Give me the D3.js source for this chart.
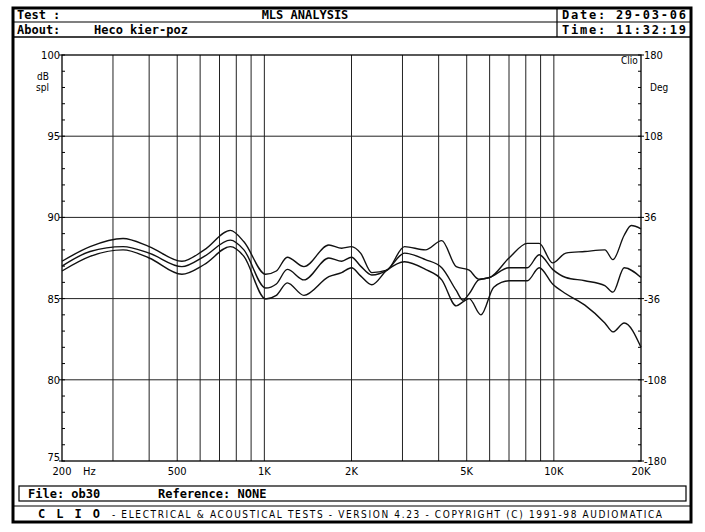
<!DOCTYPE html>
<html><head><meta charset="utf-8">
<script src="https://cdn.jsdelivr.net/npm/d3@7"></script>
<style>body{margin:0;background:#fff}svg{display:block}</style>
</head><body>
<script>
const xTickLabels = [[200,"200"],[500,"500"],[1000,"1K"],[2000,"2K"],[5000,"5K"],[10000,"10K"],[20000,"20K"]];
const gridFreqs = [300,400,500,600,700,800,900,1000,2000,3000,4000,5000,6000,7000,8000,9000,10000];
const dbTicks = [75,80,85,90,95,100];
const degLabels = ["-180","-108","-36","36","108","180"];
const curveA = [[200,87.3],[250,88.2],[325,88.7],[400,88.2],[519,87.3],[620,88.0],[763,89.2],[850,88.5],[1010,86.5],[1100,86.7],[1200,87.55],[1370,86.97],[1670,88.3],[1850,88.1],[2000,88.2],[2150,87.8],[2350,86.6],[2650,86.75],[3050,88.2],[3600,88.0],[4100,88.57],[4600,86.97],[5100,86.75],[5500,86.2],[6000,86.3],[7000,87.5],[8100,88.4],[8900,88.4],[9900,87.2],[11000,87.8],[12800,87.9],[15000,88.0],[16000,87.4],[17500,88.9],[18500,89.5],[20000,89.3]];
const curveB = [[200,87.0],[250,87.9],[325,88.2],[400,87.8],[519,86.97],[620,87.6],[763,88.6],[850,88.0],[1010,85.65],[1100,85.9],[1200,86.8],[1370,86.15],[1670,87.5],[1850,87.3],[2000,87.55],[2150,87.0],[2350,86.45],[2650,86.75],[3050,87.8],[3600,87.4],[4100,86.9],[4600,85.5],[4850,84.9],[5100,85.3],[5500,86.15],[6000,86.3],[7000,86.9],[8100,86.9],[8900,87.7],[9900,86.8],[11000,86.3],[12800,86.1],[15000,85.8],[16000,85.4],[17500,86.9],[20000,86.3]];
const curveC = [[200,86.7],[250,87.6],[325,88.0],[400,87.5],[519,86.5],[620,87.1],[763,88.2],[850,87.6],[1010,84.98],[1100,85.2],[1200,85.97],[1370,85.2],[1670,86.35],[1850,86.6],[2000,86.9],[2150,86.4],[2350,85.85],[2650,86.75],[3050,87.27],[3600,86.8],[4100,86.15],[4600,84.55],[4850,84.8],[5100,85.0],[5600,84.0],[6200,85.7],[7000,86.1],[8100,86.1],[8900,86.9],[9900,85.9],[11000,85.3],[12800,84.6],[15000,83.5],[16000,82.95],[17500,83.5],[20000,82.0]];
const series = [curveA, curveB, curveC];

const W=705,H=532;
const svg=d3.select("body").append("svg").attr("width",W).attr("height",H);
const mono="'DejaVu Sans Mono', monospace";
const cond="'Liberation Sans Narrow','DejaVu Sans Condensed','Liberation Sans',sans-serif";
const L=62,R=641,T=55,B=461;
const x=d3.scaleLog().domain([200,20000]).range([L,R]);
const y=d3.scaleLinear().domain([75,100]).range([B,T]);
const yDeg=d3.scaleLinear().domain([-180,180]).range([B,T]);

svg.append("rect").attr("x",13).attr("y",8).attr("width",678).attr("height",514).attr("fill","none").attr("stroke","#000").attr("stroke-width",3);
const hl=(x1,y1,x2,y2,w=1.2)=>svg.append("line").attr("x1",x1).attr("y1",y1).attr("x2",x2).attr("y2",y2).attr("stroke","#000").attr("stroke-width",w);
hl(13,22,691,22);hl(13,37,691,37,1.5);hl(557,8,557,37);
const txt=(s,xx,yy,o={})=>{const t=svg.append("text").attr("x",xx).attr("y",yy).text(s)
  .attr("font-family",o.f||mono).attr("font-size",o.s||11).attr("font-weight",o.w||"bold")
  .attr("text-anchor",o.a||"start").attr("fill","#000");
  if(o.len) t.attr("textLength",o.len).attr("lengthAdjust","spacing"); return t;};
txt("Test :",17,19,{s:12});txt("MLS ANALYSIS",305,19,{a:"middle",s:12});
txt("About:",17,34,{s:12});txt("Heco kier-poz",94,34,{s:12});
txt("Date: 29-03-06",562,19,{s:12,len:124});txt("Time: 11:32:19",562,34,{s:12,len:124});
svg.append("rect").attr("x",19).attr("y",486).attr("width",667).attr("height",15).attr("fill","none").attr("stroke","#000").attr("stroke-width",1.2);
txt("File: ob30",28,498,{s:12});txt("Reference: NONE",158,498,{s:12});
hl(13,506,691,506,1.2);
txt("C L I O",38,518,{s:12,len:62});
txt("-  ELECTRICAL & ACOUSTICAL TESTS  -  VERSION 4.23  -  COPYRIGHT (C) 1991-98 AUDIOMATICA",112,518,{f:cond,s:10,w:"normal",len:550});

const g=svg.append("g");
g.selectAll(".v").data(gridFreqs).join("line").attr("x1",d=>x(d)).attr("x2",d=>x(d)).attr("y1",T).attr("y2",B).attr("stroke","#222").attr("stroke-width",1);
g.selectAll(".h").data(dbTicks.slice(1,-1)).join("line").attr("x1",L).attr("x2",R).attr("y1",d=>y(d)).attr("y2",d=>y(d)).attr("stroke","#222").attr("stroke-width",1);
g.append("rect").attr("x",L).attr("y",T).attr("width",R-L).attr("height",B-T).attr("fill","none").attr("stroke","#000").attr("stroke-width",1.3);
const minor=d3.range(75,100.01,1);
g.selectAll(".ml").data(minor).join("line").attr("x1",L).attr("x2",L+3).attr("y1",d=>y(d)).attr("y2",d=>y(d)).attr("stroke","#000");
g.selectAll(".mr").data(minor).join("line").attr("x1",R-3).attr("x2",R).attr("y1",d=>y(d)).attr("y2",d=>y(d)).attr("stroke","#000");
g.selectAll(".ml2").data(dbTicks).join("line").attr("x1",L-3).attr("x2",L).attr("y1",d=>y(d)).attr("y2",d=>y(d)).attr("stroke","#000");
g.selectAll(".mr2").data(dbTicks).join("line").attr("x1",R).attr("x2",R+3).attr("y1",d=>y(d)).attr("y2",d=>y(d)).attr("stroke","#000");
const ax={f:cond,s:11,w:"normal"};
dbTicks.forEach(d=>txt(String(d),L-2,y(d)+(d===75?0:4),{...ax,a:"end"}));
degLabels.forEach(d=>txt(d,R+3,yDeg(+d)+4,ax));
xTickLabels.forEach(([f,s])=>txt(s,x(f),y(75)+14,{...ax,a:"middle"}));
txt("Hz",83,475,ax);
txt("dB",37,80,{...ax,s:10});txt("spl",36,91,{...ax,s:10});
txt("Deg",650,91,{...ax,s:10});txt("Clio",621,64,{...ax,s:10});

const line=d3.line().x(d=>x(d[0])).y(d=>y(d[1])).curve(d3.curveMonotoneX);
g.selectAll(".c").data(series).join("path").attr("d",line).attr("fill","none").attr("stroke","#111").attr("stroke-width",1.4);
</script>
</body></html>
